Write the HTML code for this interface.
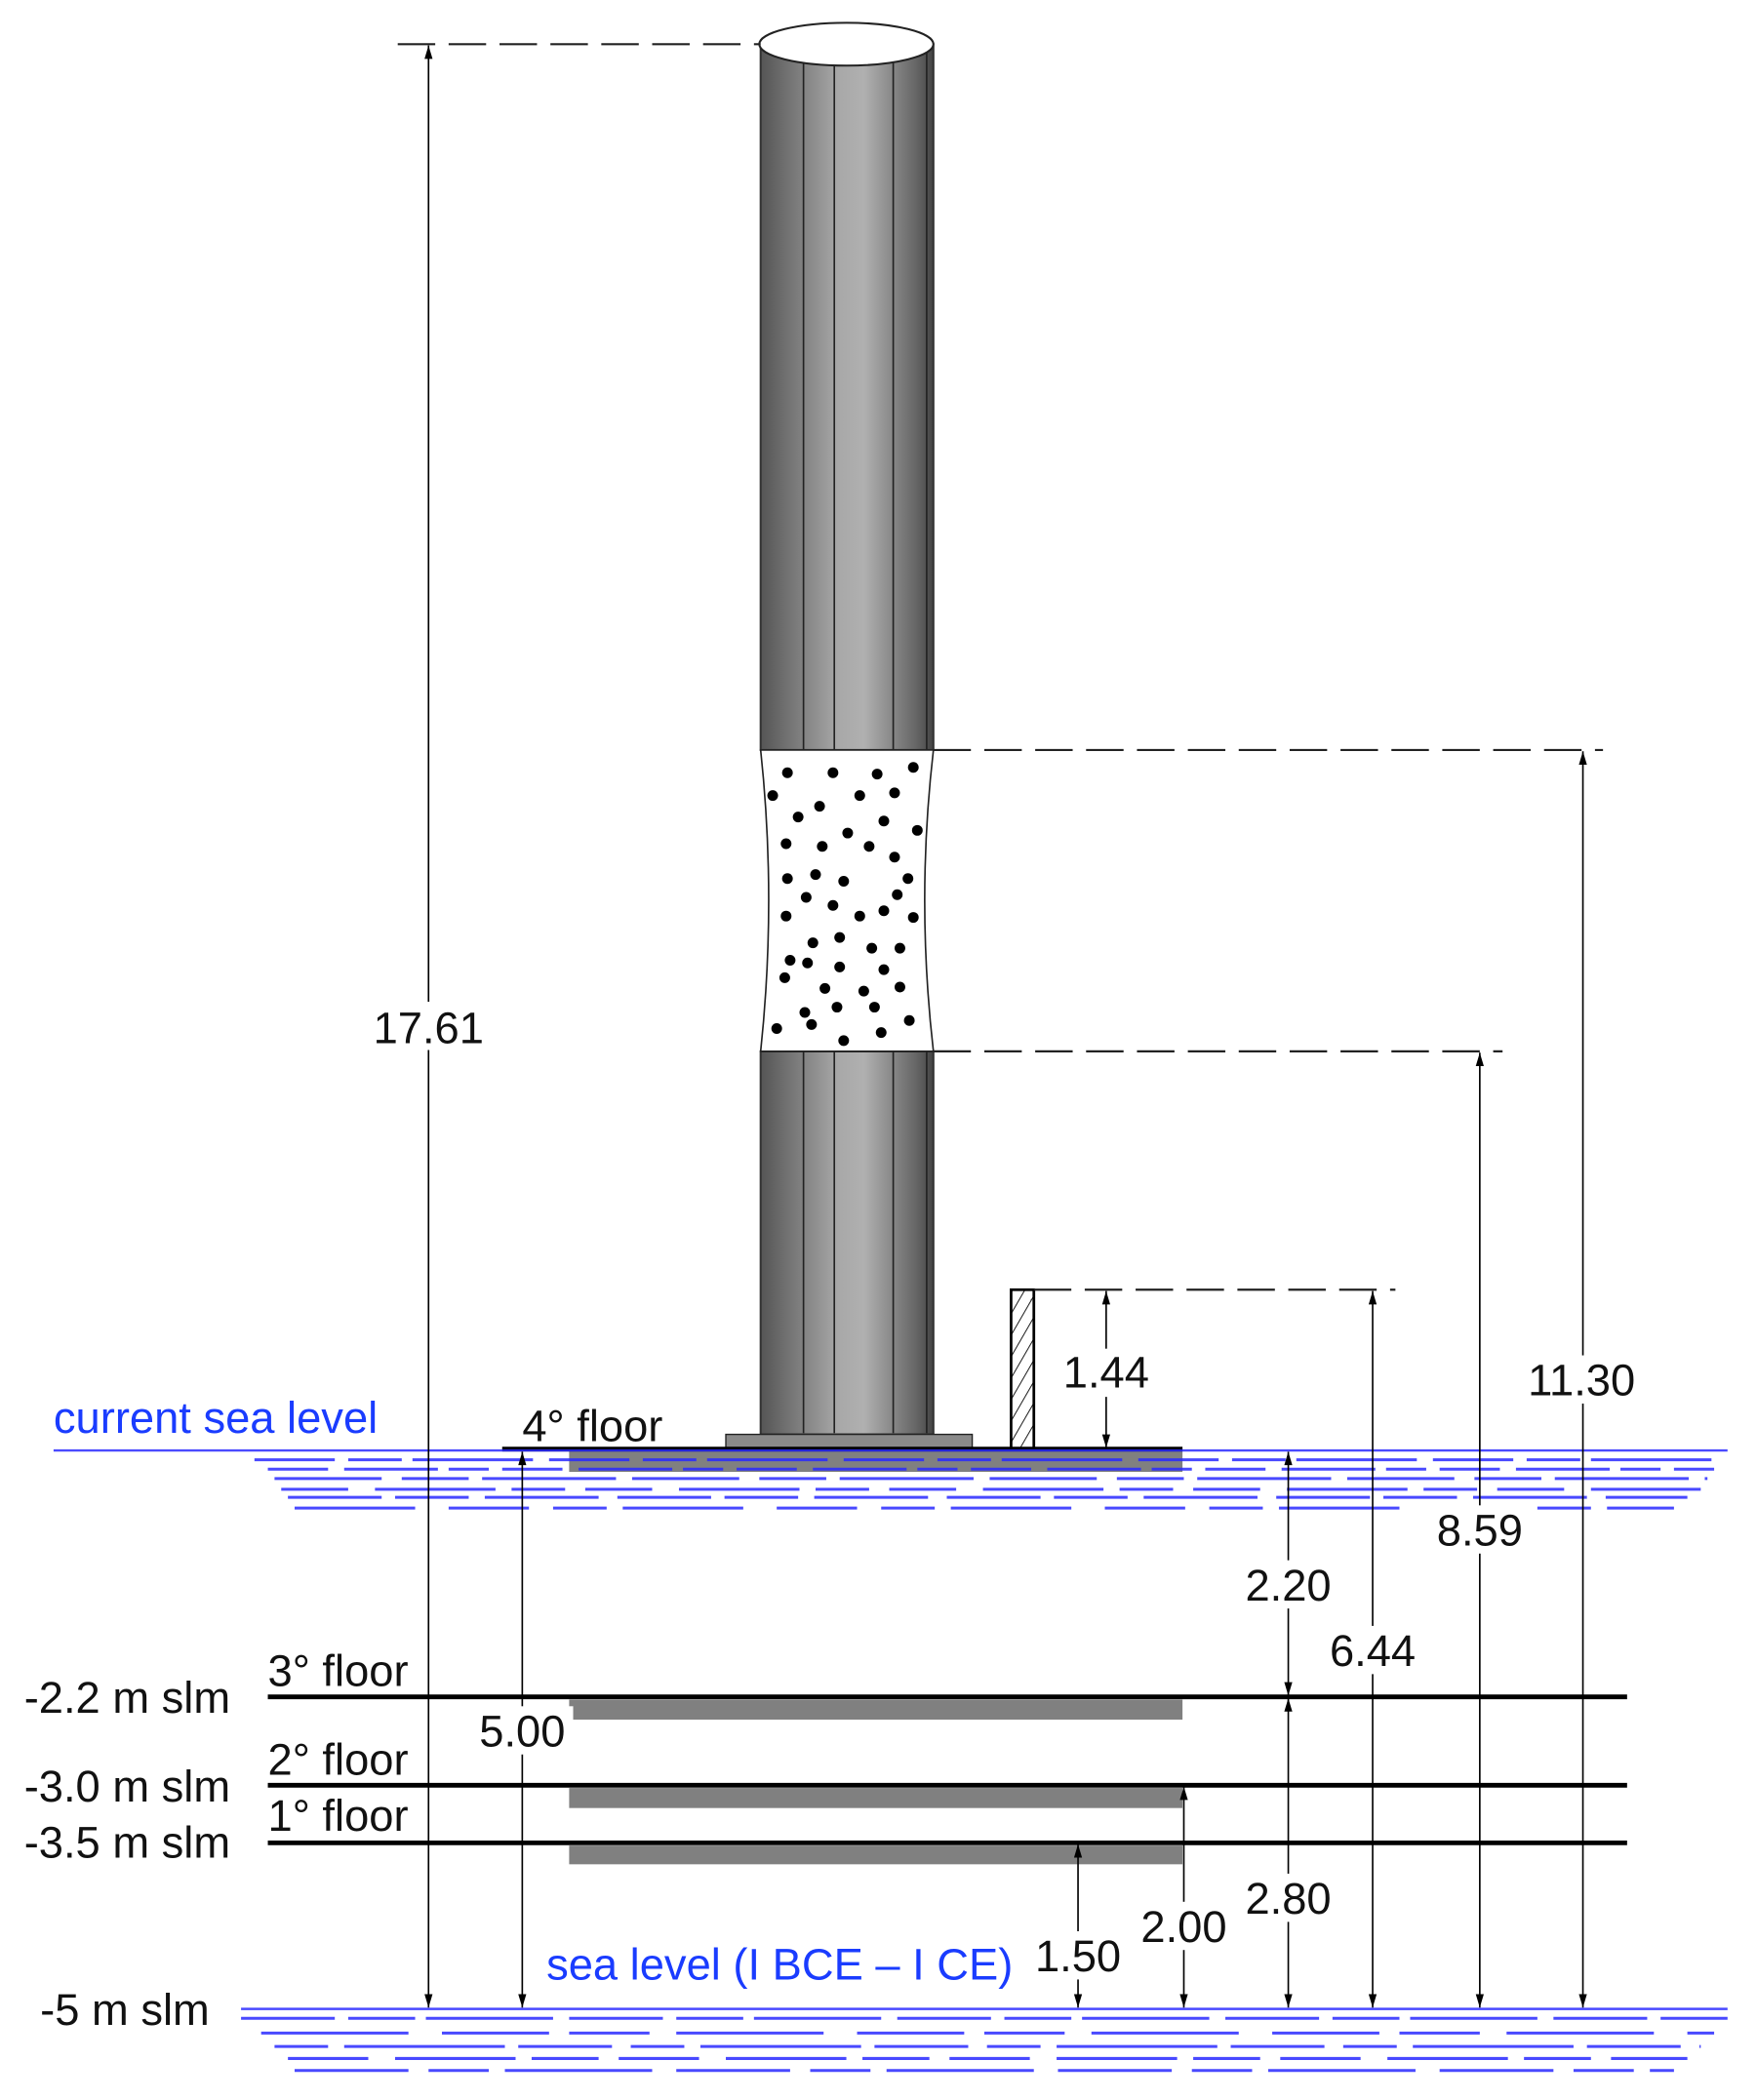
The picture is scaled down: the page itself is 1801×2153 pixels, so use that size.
<!DOCTYPE html>
<html><head><meta charset="utf-8"><style>
html,body{margin:0;padding:0;background:#fff}
svg{display:block}
text{font-family:"Liberation Sans",sans-serif;font-size:33px}
</style></head><body>
<svg width="1801" height="2153" viewBox="0 0 1312 1568" preserveAspectRatio="none" xmlns="http://www.w3.org/2000/svg">
<defs>
<linearGradient id="col" x1="0" x2="1" y1="0" y2="0">
<stop offset="0" stop-color="#555"/><stop offset="0.45" stop-color="#a8a8a8"/><stop offset="0.6" stop-color="#b0b0b0"/><stop offset="0.9" stop-color="#666"/><stop offset="1" stop-color="#444"/>
</linearGradient>
<marker id="ah" markerWidth="12" markerHeight="8" refX="0" refY="0" orient="auto-start-reverse" markerUnits="userSpaceOnUse" viewBox="-11 -4 12 8" overflow="visible">
<path d="M0,0 L-10,-3 L-10,3 Z" fill="#000"/></marker>
<pattern id="hatch" width="8" height="8" patternUnits="userSpaceOnUse" patternTransform="rotate(30)">
<line x1="0" y1="0" x2="0" y2="8" stroke="#000" stroke-width="1.3"/></pattern>
</defs>

<!-- column -->
<rect x="568" y="33" width="129" height="527" fill="url(#col)" stroke="#333" stroke-width="1.5"/>
<rect x="568" y="785" width="129" height="286" fill="url(#col)" stroke="#333" stroke-width="1.5"/>
<g stroke="#222" stroke-width="1.2">
<line x1="600" y1="43" x2="600" y2="560"/><line x1="623" y1="33" x2="623" y2="560"/><line x1="667" y1="40" x2="667" y2="560"/>
<line x1="600" y1="785" x2="600" y2="1070"/><line x1="623" y1="785" x2="623" y2="1070"/><line x1="667" y1="785" x2="667" y2="1070"/>
<line x1="692" y1="33" x2="692" y2="560"/><line x1="692" y1="785" x2="692" y2="1070"/>
</g>
<ellipse cx="632" cy="33" rx="65" ry="16" fill="#fff" stroke="#222" stroke-width="1.5"/>
<!-- dotted section -->
<path d="M568,560 Q580,672 568,785 L697,785 Q684,672 697,560 Z" fill="#fff" stroke="#222" stroke-width="1.2"/>
<g fill="#000">
<circle cx="588" cy="577" r="4"/><circle cx="622" cy="577" r="4"/><circle cx="655" cy="578" r="4"/><circle cx="682" cy="573" r="4"/>
<circle cx="577" cy="594" r="4"/><circle cx="612" cy="602" r="4"/><circle cx="642" cy="594" r="4"/><circle cx="668" cy="592" r="4"/>
<circle cx="596" cy="610" r="4"/><circle cx="633" cy="622" r="4"/><circle cx="660" cy="613" r="4"/><circle cx="685" cy="620" r="4"/>
<circle cx="587" cy="630" r="4"/><circle cx="614" cy="632" r="4"/><circle cx="649" cy="632" r="4"/><circle cx="668" cy="640" r="4"/>
<circle cx="588" cy="656" r="4"/><circle cx="609" cy="653" r="4"/><circle cx="630" cy="658" r="4"/><circle cx="670" cy="668" r="4"/><circle cx="678" cy="656" r="4"/>
<circle cx="587" cy="684" r="4"/><circle cx="602" cy="670" r="4"/><circle cx="622" cy="676" r="4"/><circle cx="642" cy="684" r="4"/><circle cx="660" cy="680" r="4"/><circle cx="682" cy="685" r="4"/>
<circle cx="607" cy="704" r="4"/><circle cx="627" cy="700" r="4"/><circle cx="651" cy="708" r="4"/><circle cx="672" cy="708" r="4"/>
<circle cx="590" cy="717" r="4"/><circle cx="603" cy="719" r="4"/><circle cx="627" cy="722" r="4"/><circle cx="660" cy="724" r="4"/>
<circle cx="586" cy="730" r="4"/><circle cx="616" cy="738" r="4"/><circle cx="645" cy="740" r="4"/><circle cx="672" cy="737" r="4"/>
<circle cx="601" cy="756" r="4"/><circle cx="625" cy="752" r="4"/><circle cx="653" cy="752" r="4"/><circle cx="679" cy="762" r="4"/>
<circle cx="580" cy="768" r="4"/><circle cx="606" cy="765" r="4"/><circle cx="630" cy="777" r="4"/><circle cx="658" cy="771" r="4"/>
</g>
<!-- base plate -->
<rect x="542" y="1071" width="184" height="11" fill="#8a8a8a" stroke="#222" stroke-width="1"/>
<!-- wall -->
<rect x="755" y="963" width="17" height="120" fill="url(#hatch)" stroke="#000" stroke-width="2"/>

<!-- dashed extension lines -->
<g stroke="#222" stroke-width="1.6" stroke-dasharray="28,10" fill="none">
<line x1="297" y1="33" x2="568" y2="33"/>
<line x1="697" y1="560" x2="1197" y2="560"/>
<line x1="697" y1="785" x2="1122" y2="785"/>
<line x1="772" y1="963" x2="1042" y2="963"/>
</g>

<!-- floors -->
<g fill="#808080">
<rect x="425" y="1083" width="458" height="16"/>
<rect x="425" y="1269" width="458" height="15"/>
<rect x="425" y="1335" width="458" height="15"/>
<rect x="425" y="1378" width="458" height="14"/>
</g>
<line x1="375" y1="1082" x2="883" y2="1082" stroke="#000" stroke-width="3.5"/>
<g stroke="#000" stroke-width="3.5">
<line x1="200" y1="1267" x2="1215" y2="1267"/>
<line x1="200" y1="1333" x2="1215" y2="1333"/>
<line x1="200" y1="1376" x2="1215" y2="1376"/>
</g>

<!-- water: current sea level -->
<g stroke="#2a2aff" stroke-width="2.2" fill="none" opacity="0.85">
<line x1="40" y1="1083" x2="1290" y2="1083" stroke-width="1.8"/>
<line x1="190" y1="1090" x2="1290" y2="1090" stroke-dasharray="60,10,40,8,90,12"/>
<line x1="200" y1="1097" x2="1280" y2="1097" stroke-dasharray="45,12,70,8,30,10"/>
<line x1="205" y1="1104" x2="1275" y2="1104" stroke-dasharray="80,15,50,10,100,12"/>
<line x1="210" y1="1112" x2="1270" y2="1112" stroke-dasharray="50,20,90,12,40,15"/>
<line x1="215" y1="1118" x2="1260" y2="1118" stroke-dasharray="70,10,55,12,85,14"/>
<line x1="220" y1="1126" x2="1250" y2="1126" stroke-dasharray="90,25,60,18,40,12"/>
</g>
<!-- water: ancient sea level -->
<g stroke="#2a2aff" stroke-width="2.2" fill="none" opacity="0.85">
<line x1="180" y1="1500" x2="1290" y2="1500" stroke-width="1.8"/>
<line x1="180" y1="1507" x2="1290" y2="1507" stroke-dasharray="70,10,50,8,95,12"/>
<line x1="195" y1="1518" x2="1280" y2="1518" stroke-dasharray="110,25,80,15,60,20"/>
<line x1="205" y1="1528" x2="1270" y2="1528" stroke-dasharray="40,12,120,10,70,14"/>
<line x1="215" y1="1537" x2="1260" y2="1537" stroke-dasharray="60,20,90,12,50,15"/>
<line x1="220" y1="1546" x2="1250" y2="1546" stroke-dasharray="85,15,45,12,110,18"/>
</g>

<!-- dimension lines -->
<g stroke="#000" stroke-width="1.2" marker-start="url(#ah)" marker-end="url(#ah)">
<line x1="320" y1="34" x2="320" y2="1499"/>
<line x1="1182" y1="561" x2="1182" y2="1499"/>
<line x1="1105" y1="786" x2="1105" y2="1499"/>
<line x1="826" y1="964" x2="826" y2="1081"/>
<line x1="1025" y1="964" x2="1025" y2="1499"/>
<line x1="962" y1="1084" x2="962" y2="1266"/>
<line x1="962" y1="1268" x2="962" y2="1499"/>
<line x1="390" y1="1084" x2="390" y2="1499"/>
<line x1="805" y1="1377" x2="805" y2="1499"/>
<line x1="884" y1="1334" x2="884" y2="1499"/>
</g>

<!-- dimension labels with white bg -->
<g fill="#fff">
<rect x="276" y="748" width="88" height="36"/>
<rect x="1134" y="1012" width="94" height="36"/>
<rect x="1066" y="1124" width="78" height="36"/>
<rect x="788" y="1007" width="76" height="36"/>
<rect x="987" y="1214" width="78" height="36"/>
<rect x="924" y="1165" width="78" height="36"/>
<rect x="924" y="1399" width="78" height="36"/>
<rect x="352" y="1274" width="76" height="36"/>
<rect x="768" y="1442" width="74" height="36"/>
<rect x="847" y="1420" width="76" height="36"/>
</g>
<g fill="#111" text-anchor="middle">
<text x="320" y="779">17.61</text>
<text x="1181" y="1042">11.30</text>
<text x="1105" y="1154">8.59</text>
<text x="826" y="1036">1.44</text>
<text x="1025" y="1244">6.44</text>
<text x="962" y="1195">2.20</text>
<text x="962" y="1429">2.80</text>
<text x="390" y="1304">5.00</text>
<text x="805" y="1472">1.50</text>
<text x="884" y="1450">2.00</text>
</g>
<g fill="#111">
<text x="390" y="1076">4° floor</text>
<text x="200" y="1259">3° floor</text>
<text x="200" y="1325">2° floor</text>
<text x="200" y="1367">1° floor</text>
<text x="18" y="1279">-2.2 m slm</text>
<text x="18" y="1345">-3.0 m slm</text>
<text x="18" y="1387">-3.5 m slm</text>
<text x="30" y="1512">-5 m slm</text>
</g>
<g fill="#1a3cff">
<text x="40" y="1070">current sea level</text>
<text x="408" y="1478">sea level (I BCE – I CE)</text>
</g>
</svg>
</body></html>
